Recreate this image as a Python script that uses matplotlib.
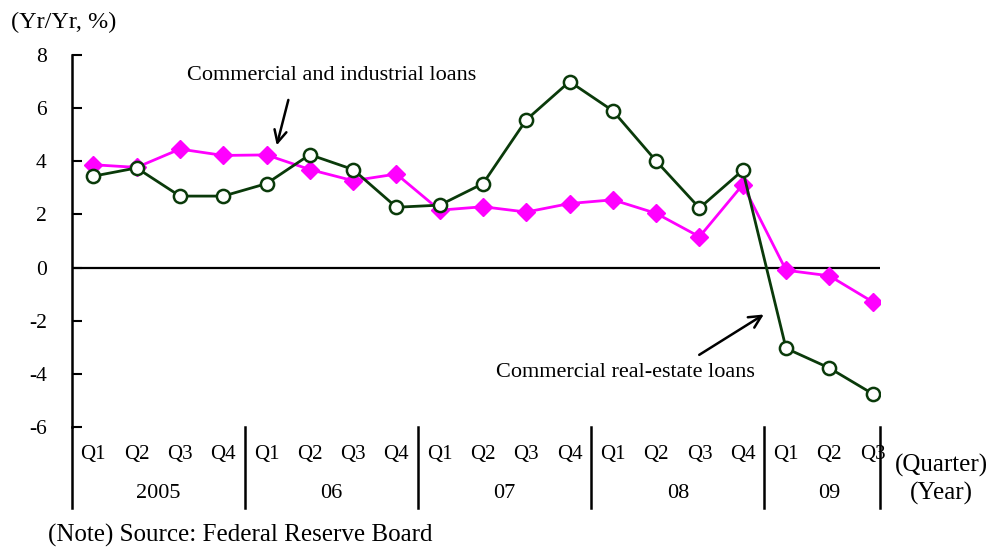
import matplotlib
matplotlib.use("Agg")
import matplotlib.pyplot as plt

plt.rcParams['font.family'] = ['Liberation Serif', 'DejaVu Serif']

quarters = ["Q1", "Q2", "Q3", "Q4"] * 4 + ["Q1", "Q2", "Q3"]
years = ["2005", "06", "07", "08", "09"]
ci_loans = [3.87, 3.77, 4.46, 4.22, 4.24, 3.69, 3.27, 3.52, 2.16, 2.29, 2.09, 2.41,
            2.55, 2.04, 1.16, 3.12, -0.10, -0.31, -1.29]
cre_loans = [3.44, 3.75, 2.69, 2.69, 3.16, 4.25, 3.69, 2.27, 2.35, 3.16, 5.56, 7.00,
             5.90, 4.01, 2.24, 3.66, -3.04, -3.78, -4.75]
yticks = [8, 6, 4, 2, 0, -2, -4, -6]

fig = plt.figure(figsize=(9.93, 5.5), dpi=100)
ax = fig.add_axes([71.7 / 993, 1 - 427 / 550, (880 - 71.7) / 993, (427 - 55) / 550])

x = list(range(len(quarters)))

ax.axhline(0, color="black", lw=1.6, zorder=1)
ax.plot(x, cre_loans, color="#0a3a0a", lw=2.0, marker="o", ms=9.5,
        markerfacecolor="white", markeredgecolor="#0a3a0a", markeredgewidth=1.8, zorder=3)
ax.plot(x, ci_loans, color="#ff00ff", lw=2.0, marker="D", ms=9,
        markerfacecolor="#ff00ff", markeredgecolor="#ff00ff", zorder=2)

ax.set_xlim(-0.5, 18.17)
ax.set_ylim(-6, 8)
ax.set_yticks(yticks)
ax.set_yticklabels([str(v) for v in yticks], fontsize=15.5)
ax.tick_params(axis="y", direction="in", length=7, width=1.5, pad=18)
ax.set_xticks([])
for s in ["top", "right", "bottom"]:
    ax.spines[s].set_visible(False)
ax.spines["left"].set_linewidth(1.8)

trans = ax.get_xaxis_transform()
y_bot = -(508 - 427) / (427 - 55)
for sx in [-0.5, 3.5, 7.5, 11.5, 15.5, 18.17]:
    ax.plot([sx, sx], [y_bot, 0], transform=trans, color="black", lw=1.8, clip_on=False)

yq = -(455 - 427) / (427 - 55)
yy = -(493 - 427) / (427 - 55)
for xi, q in zip(x, quarters):
    ax.text(xi, yq, q, transform=trans, ha="center", va="center", fontsize=15)
for i, yr in enumerate(years):
    start = i * 4
    end = min(start + 3, len(quarters) - 1)
    ax.text((start + end) / 2, yy, yr, transform=trans, ha="center", va="center", fontsize=16)

fig.text(941 / 993, 1 - 465 / 550, "(Quarter)", ha="center", va="center", fontsize=18)
fig.text(941 / 993, 1 - 493 / 550, "(Year)", ha="center", va="center", fontsize=18)
fig.text(11 / 993, 1 - 22 / 550, "(Yr/Yr, %)", ha="left", va="center", fontsize=17.5)
fig.text(48 / 993, 1 - 535 / 550, "(Note) Source: Federal Reserve Board", ha="left",
         va="center", fontsize=18)

ax.annotate("", xy=(4.22, 4.5), xytext=(4.52, 6.41),
            arrowprops=dict(arrowstyle="->", color="black", lw=1.8, mutation_scale=22))
ax.text(5.51, 7.23, "Commercial and industrial loans", ha="center", va="center", fontsize=16)
ax.annotate("", xy=(15.54, -1.71), xytext=(13.94, -3.34),
            arrowprops=dict(arrowstyle="->", color="black", lw=1.8, mutation_scale=22))
ax.text(12.28, -3.96, "Commercial real-estate loans", ha="center", va="center", fontsize=16)

fig.savefig("out.png", dpi=100)
